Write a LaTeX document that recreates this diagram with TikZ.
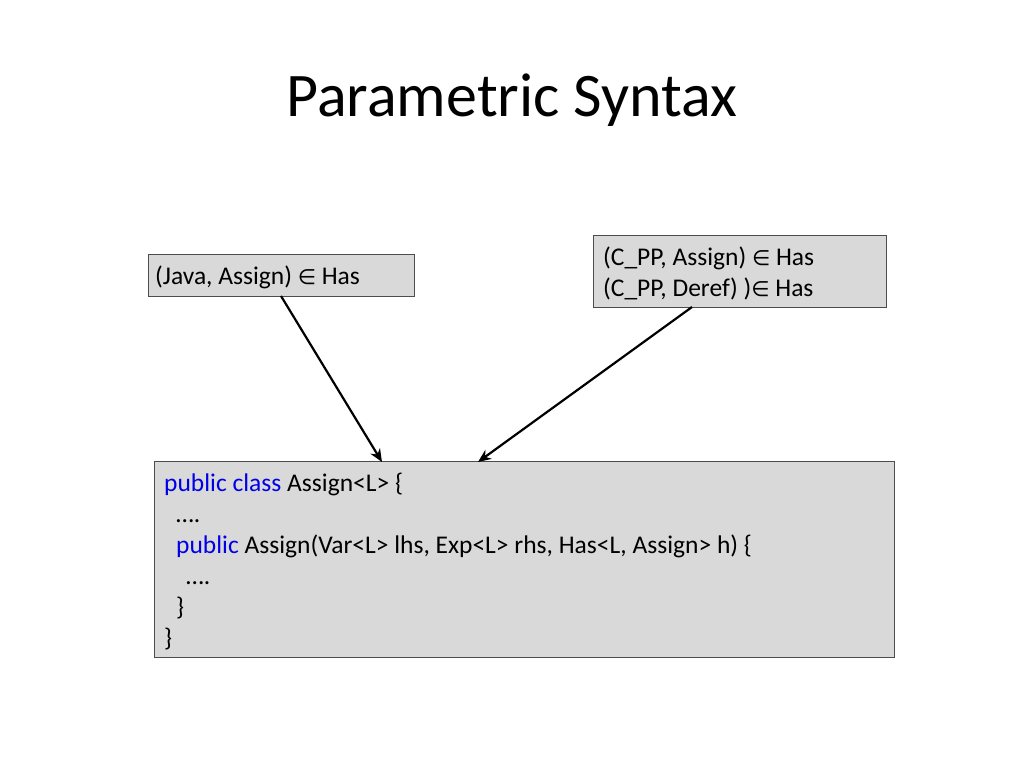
\documentclass[tikz,border=0pt]{standalone}
\usepackage{fontspec}
\setmainfont{Carlito}
\newfontfamily\symf{DejaVu Sans}
\newcommand{\elem}{{\symf\fontsize{21}{25}\selectfont ∈}}
\definecolor{kw}{RGB}{0,0,230}
\definecolor{boxfill}{RGB}{217,217,217}
\begin{document}
\begin{tikzpicture}[x=1pt,y=-1pt,
  gbox/.style={draw=black!70,fill=boxfill,line width=0.9pt},
  txt/.style={anchor=base west,inner sep=0pt,font=\fontsize{25.5}{31}\selectfont},
  arr/.style={-{Stealth[length=13pt,width=11pt]},line width=2.2pt}]
\usetikzlibrary{arrows.meta}
\useasboundingbox (0,0) rectangle (1024,768);
\node[font=\fontsize{62}{70}\selectfont,anchor=base] (title) at (512,116) {Parametric Syntax};
\draw[gbox] (148,254) rectangle (414,296);
\coordinate (j) at (281,296);
\node[txt] (t1) at (155,284) {(Java, Assign) \elem{} Has};
\draw[gbox] (593,235) rectangle (886,307);
\coordinate (c) at (692,307);
\node[txt] (t2a) at (603,265) {(C\_PP, Assign) \elem{} Has};
\node[txt] (t2b) at (603,296) {(C\_PP, Deref) )\elem{} Has};
\draw[gbox] (154,461) rectangle (894,657);
\coordinate (a1) at (382,462);
\coordinate (a2) at (478,462);
\node[txt] (l1) at (164,491) {\textcolor{kw}{public class} Assign<L> \{};
\node[txt] (l2) at (176,522) {….};
\node[txt] (l3) at (176,553) {\textcolor{kw}{public} Assign(Var<L> lhs, Exp<L> rhs, Has<L, Assign> h) \{};
\node[txt] (l4) at (186,584) {….};
\node[txt] (l5) at (176,615) {\}};
\node[txt] (l6) at (164,646) {\}};
\draw[arr] (j) -- (a1);
\draw[arr] (c) -- (a2);
\end{tikzpicture}
\end{document}
